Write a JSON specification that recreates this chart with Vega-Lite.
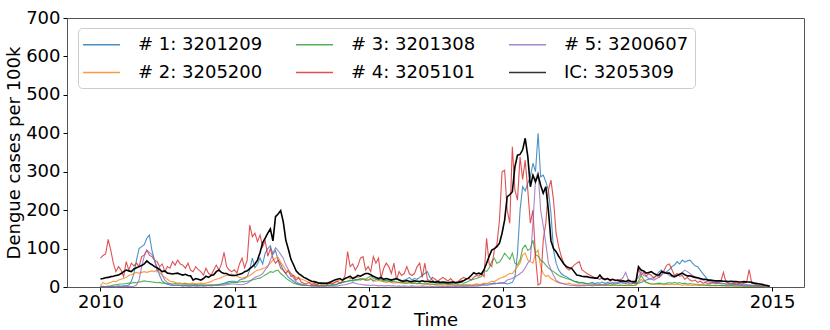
{
"$schema": "https://vega.github.io/schema/vega-lite/v6.json",
"width": 737, "height": 269,
"autosize": {"type": "none"},
"padding": {"left": 67, "top": 18, "right": 26, "bottom": 43},
"background": "white",
"config": {
  "font": "DejaVu Sans",
  "view": {"stroke": "#555", "strokeWidth": 1},
  "axis": {"domain": false, "grid": false, "tickColor": "#000", "tickSize": 4, "tickWidth": 1, "labelColor": "#000", "titleColor": "#000", "labelFontSize": 18, "titleFontSize": 18, "titleFontWeight": "normal", "labelFont": "DejaVu Sans", "titleFont": "DejaVu Sans"}
},
"data": {"values": [
{"w":0,"a":1,"b":3,"c":0,"d":75,"e":0,"k":21},
{"w":1,"a":2,"b":12,"c":1,"d":82,"e":0,"k":22},
{"w":2,"a":1,"b":8,"c":1,"d":86,"e":1,"k":24},
{"w":3,"a":2,"b":10,"c":2,"d":124,"e":0,"k":25},
{"w":4,"a":1,"b":12,"c":3,"d":96,"e":1,"k":27},
{"w":5,"a":2,"b":15,"c":5,"d":62,"e":1,"k":28},
{"w":6,"a":2,"b":14,"c":6,"d":40,"e":0,"k":30},
{"w":7,"a":3,"b":18,"c":7,"d":53,"e":1,"k":31},
{"w":8,"a":2,"b":20,"c":8,"d":44,"e":1,"k":35},
{"w":9,"a":3,"b":22,"c":8,"d":27,"e":1,"k":40},
{"w":10,"a":3,"b":25,"c":9,"d":66,"e":1,"k":44},
{"w":11,"a":5,"b":30,"c":10,"d":44,"e":2,"k":42},
{"w":12,"a":15,"b":32,"c":10,"d":62,"e":1,"k":40},
{"w":13,"a":35,"b":35,"c":12,"d":55,"e":2,"k":47},
{"w":14,"a":70,"b":38,"c":11,"d":62,"e":5,"k":50},
{"w":15,"a":100,"b":36,"c":13,"d":53,"e":18,"k":53},
{"w":16,"a":105,"b":38,"c":14,"d":79,"e":53,"k":56},
{"w":17,"a":110,"b":40,"c":16,"d":83,"e":80,"k":60},
{"w":18,"a":127,"b":38,"c":15,"d":96,"e":96,"k":68},
{"w":19,"a":135,"b":40,"c":14,"d":83,"e":90,"k":62},
{"w":20,"a":95,"b":42,"c":13,"d":79,"e":85,"k":58},
{"w":21,"a":70,"b":40,"c":12,"d":70,"e":70,"k":53},
{"w":22,"a":50,"b":45,"c":11,"d":66,"e":40,"k":50},
{"w":23,"a":30,"b":38,"c":12,"d":53,"e":50,"k":45},
{"w":24,"a":15,"b":30,"c":10,"d":60,"e":31,"k":40},
{"w":25,"a":10,"b":25,"c":10,"d":40,"e":18,"k":42},
{"w":26,"a":7,"b":20,"c":9,"d":53,"e":12,"k":36},
{"w":27,"a":5,"b":15,"c":9,"d":49,"e":8,"k":35},
{"w":28,"a":4,"b":14,"c":8,"d":66,"e":6,"k":34},
{"w":29,"a":4,"b":12,"c":9,"d":57,"e":5,"k":35},
{"w":30,"a":5,"b":10,"c":8,"d":70,"e":4,"k":36},
{"w":31,"a":4,"b":10,"c":8,"d":60,"e":4,"k":33},
{"w":32,"a":3,"b":9,"c":7,"d":57,"e":3,"k":31},
{"w":33,"a":4,"b":10,"c":8,"d":49,"e":4,"k":33},
{"w":34,"a":3,"b":8,"c":7,"d":62,"e":3,"k":30},
{"w":35,"a":3,"b":9,"c":7,"d":44,"e":3,"k":29},
{"w":36,"a":4,"b":10,"c":6,"d":40,"e":4,"k":18},
{"w":37,"a":3,"b":8,"c":7,"d":53,"e":3,"k":22},
{"w":38,"a":3,"b":9,"c":6,"d":45,"e":3,"k":20},
{"w":39,"a":4,"b":10,"c":6,"d":40,"e":4,"k":18},
{"w":40,"a":3,"b":9,"c":6,"d":31,"e":3,"k":22},
{"w":41,"a":4,"b":10,"c":5,"d":49,"e":3,"k":28},
{"w":42,"a":4,"b":12,"c":6,"d":35,"e":4,"k":25},
{"w":43,"a":5,"b":14,"c":5,"d":31,"e":3,"k":30},
{"w":44,"a":4,"b":18,"c":6,"d":44,"e":4,"k":32},
{"w":45,"a":5,"b":20,"c":6,"d":57,"e":4,"k":40},
{"w":46,"a":6,"b":22,"c":7,"d":44,"e":4,"k":44},
{"w":47,"a":8,"b":25,"c":7,"d":60,"e":5,"k":38},
{"w":48,"a":10,"b":28,"c":8,"d":90,"e":5,"k":35},
{"w":49,"a":12,"b":30,"c":9,"d":53,"e":6,"k":35},
{"w":50,"a":14,"b":32,"c":10,"d":44,"e":7,"k":31},
{"w":51,"a":15,"b":34,"c":12,"d":40,"e":8,"k":30},
{"w":52,"a":15,"b":30,"c":12,"d":45,"e":8,"k":30},
{"w":53,"a":12,"b":28,"c":12,"d":36,"e":7,"k":31},
{"w":54,"a":18,"b":25,"c":13,"d":60,"e":6,"k":33},
{"w":55,"a":20,"b":23,"c":14,"d":75,"e":6,"k":35},
{"w":56,"a":22,"b":25,"c":14,"d":50,"e":8,"k":40},
{"w":57,"a":27,"b":27,"c":15,"d":70,"e":10,"k":42},
{"w":58,"a":45,"b":30,"c":16,"d":161,"e":15,"k":48},
{"w":59,"a":75,"b":35,"c":18,"d":131,"e":20,"k":53},
{"w":60,"a":50,"b":40,"c":20,"d":140,"e":25,"k":60},
{"w":61,"a":60,"b":44,"c":22,"d":118,"e":28,"k":70},
{"w":62,"a":75,"b":45,"c":23,"d":135,"e":30,"k":90},
{"w":63,"a":60,"b":48,"c":27,"d":105,"e":35,"k":115},
{"w":64,"a":88,"b":50,"c":31,"d":120,"e":45,"k":127},
{"w":65,"a":100,"b":55,"c":35,"d":80,"e":53,"k":140},
{"w":66,"a":107,"b":62,"c":40,"d":100,"e":70,"k":151},
{"w":67,"a":85,"b":70,"c":38,"d":75,"e":88,"k":120},
{"w":68,"a":95,"b":75,"c":42,"d":62,"e":102,"k":183},
{"w":69,"a":70,"b":77,"c":44,"d":70,"e":95,"k":190},
{"w":70,"a":60,"b":65,"c":35,"d":49,"e":85,"k":199},
{"w":71,"a":44,"b":55,"c":30,"d":44,"e":75,"k":170},
{"w":72,"a":35,"b":44,"c":23,"d":35,"e":57,"k":122},
{"w":73,"a":25,"b":38,"c":18,"d":44,"e":45,"k":98},
{"w":74,"a":20,"b":35,"c":14,"d":27,"e":35,"k":72},
{"w":75,"a":15,"b":30,"c":10,"d":30,"e":23,"k":58},
{"w":76,"a":10,"b":25,"c":8,"d":18,"e":14,"k":42},
{"w":77,"a":8,"b":23,"c":6,"d":25,"e":10,"k":35},
{"w":78,"a":6,"b":20,"c":5,"d":13,"e":8,"k":30},
{"w":79,"a":5,"b":18,"c":5,"d":10,"e":6,"k":25},
{"w":80,"a":4,"b":15,"c":4,"d":8,"e":5,"k":22},
{"w":81,"a":4,"b":12,"c":4,"d":12,"e":4,"k":18},
{"w":82,"a":4,"b":10,"c":3,"d":6,"e":3,"k":15},
{"w":83,"a":3,"b":10,"c":4,"d":8,"e":3,"k":14},
{"w":84,"a":4,"b":8,"c":3,"d":5,"e":2,"k":12},
{"w":85,"a":3,"b":8,"c":3,"d":10,"e":2,"k":10},
{"w":86,"a":4,"b":7,"c":4,"d":8,"e":2,"k":10},
{"w":87,"a":3,"b":8,"c":3,"d":12,"e":2,"k":9},
{"w":88,"a":4,"b":8,"c":4,"d":6,"e":2,"k":10},
{"w":89,"a":4,"b":9,"c":5,"d":10,"e":2,"k":12},
{"w":90,"a":5,"b":10,"c":6,"d":8,"e":2,"k":15},
{"w":91,"a":5,"b":12,"c":7,"d":12,"e":2,"k":18},
{"w":92,"a":8,"b":15,"c":8,"d":15,"e":3,"k":20},
{"w":93,"a":10,"b":18,"c":10,"d":10,"e":4,"k":22},
{"w":94,"a":12,"b":20,"c":12,"d":15,"e":5,"k":18},
{"w":95,"a":14,"b":22,"c":14,"d":30,"e":6,"k":22},
{"w":96,"a":15,"b":25,"c":15,"d":92,"e":8,"k":25},
{"w":97,"a":18,"b":22,"c":16,"d":53,"e":10,"k":28},
{"w":98,"a":15,"b":25,"c":18,"d":60,"e":12,"k":22},
{"w":99,"a":20,"b":27,"c":17,"d":44,"e":10,"k":25},
{"w":100,"a":18,"b":25,"c":20,"d":55,"e":8,"k":30},
{"w":101,"a":22,"b":22,"c":18,"d":75,"e":7,"k":28},
{"w":102,"a":20,"b":20,"c":22,"d":79,"e":6,"k":32},
{"w":103,"a":18,"b":18,"c":20,"d":44,"e":5,"k":35},
{"w":104,"a":18,"b":18,"c":25,"d":53,"e":5,"k":35},
{"w":105,"a":22,"b":20,"c":28,"d":40,"e":4,"k":32},
{"w":106,"a":15,"b":18,"c":23,"d":79,"e":5,"k":28},
{"w":107,"a":20,"b":15,"c":22,"d":62,"e":4,"k":25},
{"w":108,"a":18,"b":17,"c":20,"d":75,"e":3,"k":22},
{"w":109,"a":22,"b":15,"c":18,"d":23,"e":4,"k":25},
{"w":110,"a":14,"b":14,"c":18,"d":48,"e":3,"k":20},
{"w":111,"a":18,"b":12,"c":16,"d":62,"e":3,"k":22},
{"w":112,"a":15,"b":14,"c":15,"d":53,"e":4,"k":20},
{"w":113,"a":20,"b":12,"c":14,"d":35,"e":3,"k":18},
{"w":114,"a":18,"b":10,"c":14,"d":62,"e":3,"k":20},
{"w":115,"a":22,"b":12,"c":13,"d":18,"e":2,"k":22},
{"w":116,"a":20,"b":11,"c":12,"d":40,"e":3,"k":18},
{"w":117,"a":15,"b":10,"c":12,"d":30,"e":2,"k":16},
{"w":118,"a":18,"b":9,"c":11,"d":35,"e":3,"k":15},
{"w":119,"a":20,"b":10,"c":10,"d":53,"e":2,"k":17},
{"w":120,"a":25,"b":11,"c":12,"d":35,"e":2,"k":15},
{"w":121,"a":18,"b":9,"c":10,"d":30,"e":3,"k":14},
{"w":122,"a":22,"b":10,"c":11,"d":35,"e":2,"k":16},
{"w":123,"a":20,"b":8,"c":9,"d":53,"e":2,"k":15},
{"w":124,"a":25,"b":9,"c":10,"d":62,"e":2,"k":14},
{"w":125,"a":30,"b":8,"c":9,"d":25,"e":3,"k":16},
{"w":126,"a":35,"b":7,"c":8,"d":62,"e":2,"k":14},
{"w":127,"a":40,"b":8,"c":9,"d":20,"e":2,"k":15},
{"w":128,"a":25,"b":6,"c":8,"d":15,"e":2,"k":13},
{"w":129,"a":18,"b":7,"c":8,"d":25,"e":1,"k":14},
{"w":130,"a":12,"b":6,"c":7,"d":20,"e":2,"k":12},
{"w":131,"a":10,"b":5,"c":8,"d":15,"e":2,"k":14},
{"w":132,"a":8,"b":6,"c":9,"d":20,"e":1,"k":12},
{"w":133,"a":10,"b":5,"c":8,"d":25,"e":2,"k":13},
{"w":134,"a":8,"b":6,"c":10,"d":20,"e":1,"k":12},
{"w":135,"a":6,"b":5,"c":9,"d":15,"e":2,"k":11},
{"w":136,"a":8,"b":5,"c":8,"d":22,"e":1,"k":12},
{"w":137,"a":6,"b":4,"c":10,"d":15,"e":1,"k":13},
{"w":138,"a":5,"b":5,"c":9,"d":12,"e":2,"k":11},
{"w":139,"a":6,"b":4,"c":11,"d":15,"e":1,"k":12},
{"w":140,"a":5,"b":5,"c":12,"d":20,"e":1,"k":14},
{"w":141,"a":6,"b":4,"c":10,"d":25,"e":2,"k":16},
{"w":142,"a":5,"b":5,"c":12,"d":22,"e":1,"k":20},
{"w":143,"a":5,"b":6,"c":15,"d":22,"e":2,"k":23},
{"w":144,"a":4,"b":5,"c":18,"d":18,"e":2,"k":30},
{"w":145,"a":5,"b":6,"c":20,"d":25,"e":3,"k":37},
{"w":146,"a":6,"b":8,"c":22,"d":30,"e":2,"k":34},
{"w":147,"a":5,"b":7,"c":25,"d":28,"e":3,"k":36},
{"w":148,"a":6,"b":8,"c":27,"d":35,"e":4,"k":34},
{"w":149,"a":7,"b":10,"c":44,"d":27,"e":5,"k":45},
{"w":150,"a":8,"b":9,"c":40,"d":127,"e":4,"k":62},
{"w":151,"a":8,"b":12,"c":50,"d":60,"e":6,"k":80},
{"w":152,"a":9,"b":15,"c":66,"d":53,"e":7,"k":96},
{"w":153,"a":10,"b":14,"c":75,"d":96,"e":8,"k":100},
{"w":154,"a":9,"b":18,"c":62,"d":110,"e":9,"k":105},
{"w":155,"a":10,"b":22,"c":65,"d":174,"e":10,"k":114},
{"w":156,"a":10,"b":25,"c":75,"d":300,"e":11,"k":140},
{"w":157,"a":10,"b":27,"c":88,"d":304,"e":12,"k":174},
{"w":158,"a":8,"b":31,"c":80,"d":200,"e":18,"k":235},
{"w":159,"a":10,"b":35,"c":72,"d":166,"e":20,"k":240},
{"w":160,"a":12,"b":35,"c":88,"d":365,"e":22,"k":248},
{"w":161,"a":25,"b":44,"c":62,"d":252,"e":27,"k":313},
{"w":162,"a":88,"b":53,"c":58,"d":226,"e":30,"k":343},
{"w":163,"a":200,"b":62,"c":70,"d":339,"e":35,"k":345},
{"w":164,"a":261,"b":83,"c":100,"d":280,"e":40,"k":357},
{"w":165,"a":250,"b":88,"c":109,"d":330,"e":50,"k":387},
{"w":166,"a":270,"b":70,"c":95,"d":252,"e":62,"k":340},
{"w":167,"a":287,"b":66,"c":100,"d":166,"e":70,"k":261},
{"w":168,"a":322,"b":62,"c":122,"d":200,"e":166,"k":291},
{"w":169,"a":300,"b":88,"c":85,"d":79,"e":280,"k":274},
{"w":170,"a":400,"b":96,"c":80,"d":5,"e":300,"k":291},
{"w":171,"a":287,"b":53,"c":70,"d":10,"e":200,"k":265},
{"w":172,"a":291,"b":35,"c":65,"d":122,"e":160,"k":244},
{"w":173,"a":274,"b":27,"c":57,"d":166,"e":114,"k":261},
{"w":174,"a":252,"b":30,"c":50,"d":252,"e":62,"k":200},
{"w":175,"a":192,"b":22,"c":44,"d":278,"e":45,"k":120},
{"w":176,"a":96,"b":18,"c":40,"d":226,"e":30,"k":100},
{"w":177,"a":62,"b":14,"c":35,"d":140,"e":18,"k":92},
{"w":178,"a":44,"b":12,"c":30,"d":105,"e":12,"k":80},
{"w":179,"a":35,"b":10,"c":27,"d":80,"e":10,"k":70},
{"w":180,"a":30,"b":9,"c":25,"d":62,"e":8,"k":60},
{"w":181,"a":27,"b":8,"c":22,"d":50,"e":6,"k":53},
{"w":182,"a":22,"b":10,"c":20,"d":44,"e":5,"k":50},
{"w":183,"a":18,"b":8,"c":18,"d":50,"e":4,"k":49},
{"w":184,"a":15,"b":7,"c":15,"d":57,"e":4,"k":40},
{"w":185,"a":12,"b":6,"c":14,"d":62,"e":3,"k":31},
{"w":186,"a":10,"b":5,"c":12,"d":66,"e":3,"k":30},
{"w":187,"a":12,"b":5,"c":11,"d":45,"e":4,"k":28},
{"w":188,"a":10,"b":6,"c":10,"d":40,"e":3,"k":27},
{"w":189,"a":8,"b":4,"c":9,"d":35,"e":5,"k":27},
{"w":190,"a":10,"b":5,"c":8,"d":31,"e":4,"k":25},
{"w":191,"a":12,"b":6,"c":8,"d":28,"e":3,"k":24},
{"w":192,"a":9,"b":5,"c":7,"d":25,"e":4,"k":23},
{"w":193,"a":11,"b":4,"c":7,"d":22,"e":5,"k":23},
{"w":194,"a":10,"b":5,"c":6,"d":20,"e":4,"k":31},
{"w":195,"a":13,"b":6,"c":6,"d":25,"e":5,"k":22},
{"w":196,"a":9,"b":4,"c":5,"d":18,"e":6,"k":20},
{"w":197,"a":12,"b":5,"c":6,"d":22,"e":8,"k":22},
{"w":198,"a":10,"b":4,"c":5,"d":15,"e":10,"k":18},
{"w":199,"a":8,"b":5,"c":5,"d":20,"e":12,"k":20},
{"w":200,"a":11,"b":6,"c":5,"d":18,"e":10,"k":17},
{"w":201,"a":9,"b":4,"c":4,"d":15,"e":12,"k":18},
{"w":202,"a":12,"b":5,"c":5,"d":20,"e":15,"k":15},
{"w":203,"a":10,"b":4,"c":4,"d":12,"e":25,"k":16},
{"w":204,"a":9,"b":5,"c":4,"d":15,"e":38,"k":14},
{"w":205,"a":11,"b":6,"c":5,"d":12,"e":20,"k":17},
{"w":206,"a":8,"b":5,"c":4,"d":14,"e":15,"k":15},
{"w":207,"a":10,"b":4,"c":4,"d":10,"e":12,"k":14},
{"w":208,"a":9,"b":5,"c":5,"d":12,"e":18,"k":14},
{"w":209,"a":10,"b":10,"c":15,"d":49,"e":25,"k":53},
{"w":210,"a":12,"b":20,"c":30,"d":31,"e":40,"k":44},
{"w":211,"a":15,"b":15,"c":20,"d":38,"e":30,"k":42},
{"w":212,"a":18,"b":12,"c":12,"d":28,"e":28,"k":36},
{"w":213,"a":20,"b":10,"c":10,"d":35,"e":22,"k":38},
{"w":214,"a":22,"b":8,"c":8,"d":30,"e":20,"k":40},
{"w":215,"a":25,"b":8,"c":8,"d":23,"e":18,"k":35},
{"w":216,"a":30,"b":7,"c":9,"d":30,"e":22,"k":32},
{"w":217,"a":40,"b":8,"c":10,"d":25,"e":25,"k":31},
{"w":218,"a":44,"b":7,"c":9,"d":32,"e":30,"k":40},
{"w":219,"a":35,"b":6,"c":8,"d":44,"e":40,"k":38},
{"w":220,"a":40,"b":7,"c":10,"d":57,"e":35,"k":36},
{"w":221,"a":45,"b":6,"c":11,"d":60,"e":30,"k":36},
{"w":222,"a":53,"b":8,"c":10,"d":45,"e":27,"k":30},
{"w":223,"a":57,"b":6,"c":12,"d":30,"e":25,"k":27},
{"w":224,"a":66,"b":7,"c":10,"d":35,"e":30,"k":30},
{"w":225,"a":60,"b":6,"c":11,"d":28,"e":33,"k":33},
{"w":226,"a":70,"b":5,"c":9,"d":30,"e":38,"k":36},
{"w":227,"a":65,"b":6,"c":10,"d":20,"e":44,"k":32},
{"w":228,"a":68,"b":5,"c":8,"d":25,"e":40,"k":29},
{"w":229,"a":70,"b":5,"c":9,"d":18,"e":35,"k":29},
{"w":230,"a":62,"b":4,"c":8,"d":15,"e":30,"k":27},
{"w":231,"a":55,"b":5,"c":7,"d":18,"e":27,"k":25},
{"w":232,"a":53,"b":4,"c":7,"d":12,"e":22,"k":24},
{"w":233,"a":44,"b":4,"c":6,"d":15,"e":20,"k":22},
{"w":234,"a":35,"b":5,"c":6,"d":10,"e":18,"k":20},
{"w":235,"a":27,"b":4,"c":5,"d":12,"e":15,"k":20},
{"w":236,"a":18,"b":4,"c":5,"d":8,"e":14,"k":18},
{"w":237,"a":15,"b":3,"c":5,"d":10,"e":12,"k":18},
{"w":238,"a":14,"b":4,"c":4,"d":12,"e":10,"k":17},
{"w":239,"a":12,"b":3,"c":5,"d":10,"e":10,"k":16},
{"w":240,"a":10,"b":4,"c":4,"d":12,"e":9,"k":16},
{"w":241,"a":10,"b":3,"c":4,"d":15,"e":8,"k":16},
{"w":242,"a":9,"b":3,"c":4,"d":38,"e":8,"k":15},
{"w":243,"a":8,"b":4,"c":3,"d":12,"e":7,"k":15},
{"w":244,"a":8,"b":3,"c":3,"d":10,"e":7,"k":14},
{"w":245,"a":7,"b":3,"c":4,"d":8,"e":8,"k":15},
{"w":246,"a":8,"b":3,"c":3,"d":10,"e":7,"k":14},
{"w":247,"a":7,"b":2,"c":3,"d":8,"e":6,"k":14},
{"w":248,"a":6,"b":3,"c":3,"d":10,"e":6,"k":13},
{"w":249,"a":6,"b":3,"c":3,"d":8,"e":5,"k":13},
{"w":250,"a":5,"b":2,"c":2,"d":10,"e":5,"k":14},
{"w":251,"a":6,"b":3,"c":2,"d":12,"e":5,"k":13},
{"w":252,"a":5,"b":2,"c":2,"d":45,"e":4,"k":13},
{"w":253,"a":5,"b":2,"c":2,"d":10,"e":4,"k":12},
{"w":254,"a":4,"b":3,"c":2,"d":8,"e":4,"k":10},
{"w":255,"a":4,"b":2,"c":2,"d":6,"e":3,"k":9},
{"w":256,"a":3,"b":2,"c":1,"d":5,"e":3,"k":8},
{"w":257,"a":3,"b":2,"c":1,"d":5,"e":2,"k":7},
{"w":258,"a":2,"b":1,"c":1,"d":4,"e":2,"k":5},
{"w":259,"a":2,"b":1,"c":1,"d":3,"e":1,"k":4},
{"w":260,"a":1,"b":1,"c":1,"d":2,"e":1,"k":2}
]},
"transform": [{"fold": ["a","b","c","d","e","k"], "as": ["s","v"]}],
"mark": {"type": "line", "interpolate": "linear"},
"encoding": {
  "x": {"field": "w", "type": "quantitative",
        "scale": {"domain": [-13, 273.3], "nice": false, "zero": false},
        "axis": {"values": [0, 52.18, 104.36, 156.54, 208.72, 260.9],
                 "labelExpr": "'' + (2010 + round(datum.value / 52.18))",
                 "title": "Time", "labelPadding": 2, "titlePadding": 0, "labelFlush": false}},
  "y": {"field": "v", "type": "quantitative",
        "scale": {"domain": [0, 700], "nice": false},
        "axis": {"values": [0,100,200,300,400,500,600,700], "title": "Dengue cases per 100k", "labelPadding": 3, "titlePadding": 2}},
  "color": {"field": "s", "type": "nominal",
     "scale": {"domain": ["a","b","c","d","e","k"], "range": ["#1f77b4","#ff7f0e","#2ca02c","#d62728","#9467bd","#000000"]},
     "legend": {"title": null, "orient": "none", "legendX": 11, "legendY": 10, "columns": 3,
       "labelExpr": "datum.label == 'a' ? '# 1: 3201209' : datum.label == 'b' ? '# 2: 3205200' : datum.label == 'c' ? '# 3: 3201308' : datum.label == 'd' ? '# 4: 3205101' : datum.label == 'e' ? '# 5: 3200607' : 'IC: 3205309'",
       "labelFontSize": 18, "labelColor": "#000", "labelFont": "DejaVu Sans", "labelOffset": 33, "labelLimit": 300,
       "symbolType": "M-1.24,0H2.76", "symbolSize": 342, "symbolStrokeWidth": 1.6, "symbolOpacity": 0.8,
       "columnPadding": 29, "rowPadding": 8, "padding": 6,
       "strokeColor": "#cccccc", "fillColor": "white", "cornerRadius": 4}},
  "strokeWidth": {"condition": {"test": "datum.s == 'k'", "value": 1.6}, "value": 1.1},
  "opacity": {"condition": {"test": "datum.s == 'k'", "value": 1}, "value": 0.8}
}
}
